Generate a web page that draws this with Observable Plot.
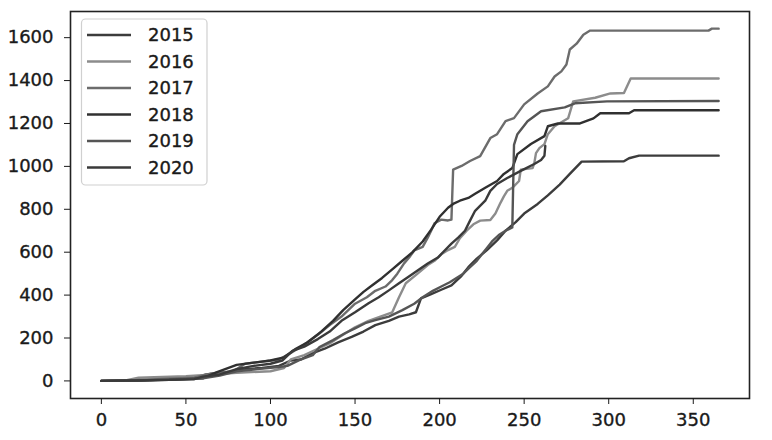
<!DOCTYPE html>
<html>
<head>
<meta charset="utf-8">
<script src="https://cdn.jsdelivr.net/npm/d3@7"></script>
<script src="https://cdn.jsdelivr.net/npm/@observablehq/plot@0.6"></script>
<style>
  html, body { margin: 0; padding: 0; background: #fff; }
  #chart { position: relative; width: 772px; height: 440px; }
  #chart svg text { stroke: #1a1a1a; stroke-width: 0.35px; }
</style>
</head>
<body>
<div id="chart"></div>
<script>
const years = ["2015", "2016", "2017", "2018", "2019", "2020"];
const colors = ["#3c3c3c", "#8c8c8c", "#6c6c6c", "#303030", "#555555", "#3a3a3a"];
const xTicks = [0, 50, 100, 150, 200, 250, 300, 350];
const yTicks = [0, 200, 400, 600, 800, 1000, 1200, 1400, 1600];

// [day, cumulative value]
const s2015 = [[0,0],[20,2],[40,8],[55,15],[62,30],[75,40],[85,55],[95,60],[105,70],[112,95],[118,100],[125,130],[132,150],[140,180],[148,205],[155,230],[162,260],[170,280],[176,300],[182,310],[186,320],[189,385],[195,405],[201,425],[207,445],[213,490],[217,530],[222,570],[228,610],[234,655],[239,700],[245,740],[250,780],[258,825],[264,865],[271,915],[277,965],[284,1022],[309,1024],[312,1038],[318,1050],[365,1050]];
const s2016 = [[0,0],[15,3],[22,15],[50,22],[62,28],[80,38],[100,45],[108,60],[112,100],[120,120],[128,150],[135,175],[142,210],[150,250],[158,280],[165,300],[172,320],[176,390],[180,455],[187,500],[193,540],[197,560],[201,590],[205,610],[209,625],[212,665],[216,700],[220,730],[224,747],[230,750],[233,780],[236,830],[238,860],[240,886],[243,900],[247,932],[248,985],[255,992],[256,1015],[257,1062],[259,1085],[262,1104],[264,1150],[268,1187],[276,1224],[279,1303],[292,1320],[301,1340],[309,1342],[313,1410],[365,1410]];
const s2017 = [[0,0],[20,3],[40,10],[55,15],[65,35],[78,45],[85,80],[95,90],[105,100],[112,130],[120,170],[128,215],[135,260],[142,300],[150,360],[157,390],[162,420],[168,440],[172,470],[175,500],[179,548],[182,575],[185,608],[190,625],[193,668],[195,700],[197,735],[201,752],[205,748],[207,752],[208,985],[213,1002],[218,1025],[224,1048],[230,1132],[234,1150],[239,1211],[244,1225],[250,1289],[258,1340],[264,1373],[268,1419],[272,1443],[275,1475],[277,1545],[281,1572],[285,1614],[289,1633],[359,1633],[361,1642],[365,1642]];
const s2018 = [[0,0],[20,2],[40,5],[60,12],[68,40],[80,75],[90,85],[100,95],[108,110],[115,150],[122,180],[130,230],[137,280],[143,330],[150,380],[155,415],[160,445],[166,480],[172,520],[178,560],[184,600],[190,650],[195,705],[200,765],[205,807],[208,825],[212,840],[217,853],[221,872],[227,900],[234,932],[238,965],[243,992],[246,1057],[254,1104],[262,1141],[264,1187],[270,1200],[283,1200],[291,1224],[295,1248],[312,1248],[315,1262],[365,1262]];
const s2019 = [[0,0],[20,2],[40,6],[60,12],[70,25],[80,45],[92,55],[105,65],[110,70],[117,97],[125,120],[129,158],[137,190],[144,222],[150,245],[156,269],[162,283],[170,300],[178,330],[185,360],[190,390],[196,420],[201,440],[206,460],[210,480],[214,500],[218,530],[222,560],[225,590],[228,620],[231,650],[235,680],[239,700],[243,715],[244,1100],[246,1150],[252,1210],[260,1257],[274,1275],[280,1294],[299,1303],[365,1305]];
const s2020 = [[0,0],[20,2],[40,5],[55,8],[60,20],[70,30],[80,55],[90,70],[100,80],[107,95],[113,140],[120,160],[128,195],[135,230],[142,280],[150,320],[158,362],[164,390],[170,422],[176,455],[181,482],[187,515],[193,547],[199,575],[203,608],[207,640],[211,668],[215,700],[218,747],[221,793],[227,840],[230,886],[234,918],[240,946],[248,979],[256,1011],[260,1030],[262,1050],[262.5,1095]];

const seriesList = [s2015, s2016, s2017, s2018, s2019, s2020];
const rows = [];
seriesList.forEach((s, i) => s.forEach(([d, v]) => rows.push({year: years[i], day: d, value: v})));

const W = 772, H = 440;
const mL = 70, mR = 23, mT = 11, mB = 42;

const plot = Plot.plot({
  width: W, height: H,
  marginLeft: mL, marginRight: mR, marginTop: mT, marginBottom: mB,
  style: {fontFamily: "DejaVu Sans, sans-serif", fontSize: "18px", color: "#1a1a1a", background: "#fff"},
  x: {domain: [-18.25, 383.25]},
  y: {domain: [-82, 1722]},
  color: {domain: years, range: colors},
  marks: [
    Plot.line(rows, {x: "day", y: "value", z: "year", stroke: "year", strokeWidth: 2.4, strokeLinejoin: "round"}),
    Plot.frame({stroke: "#222", strokeWidth: 1.6}),
    Plot.axisX({ticks: xTicks, tickSize: 6, tickPadding: 9, label: null, fontSize: 18, tickFormat: d3.format("d")}),
    Plot.axisY({ticks: yTicks, tickSize: 6, tickPadding: 11, label: null, fontSize: 18, tickFormat: d3.format("d")})
  ]
});
document.getElementById("chart").appendChild(plot);

// legend inside the axes (top-left), like matplotlib
const svg = d3.select(plot);
const lg = svg.append("g").attr("font-family", "DejaVu Sans, sans-serif").attr("font-size", 18)
  .attr("text-anchor", "start");
lg.append("rect").attr("x", 81.5).attr("y", 19).attr("width", 125.5).attr("height", 166)
  .attr("rx", 4).attr("fill", "#fff").attr("fill-opacity", 0.85).attr("stroke", "#d0d0d0").attr("stroke-width", 1.2);
years.forEach((y, i) => {
  const cy = 35 + i * 26.5;
  lg.append("line").attr("x1", 87).attr("x2", 131).attr("y1", cy).attr("y2", cy)
    .attr("stroke", colors[i]).attr("stroke-width", 2.6);
  lg.append("text").attr("x", 148).attr("y", cy).attr("dy", "0.36em").attr("fill", "#1a1a1a")
    .attr("text-anchor", "start").text(y);
});
</script>
</body>
</html>
